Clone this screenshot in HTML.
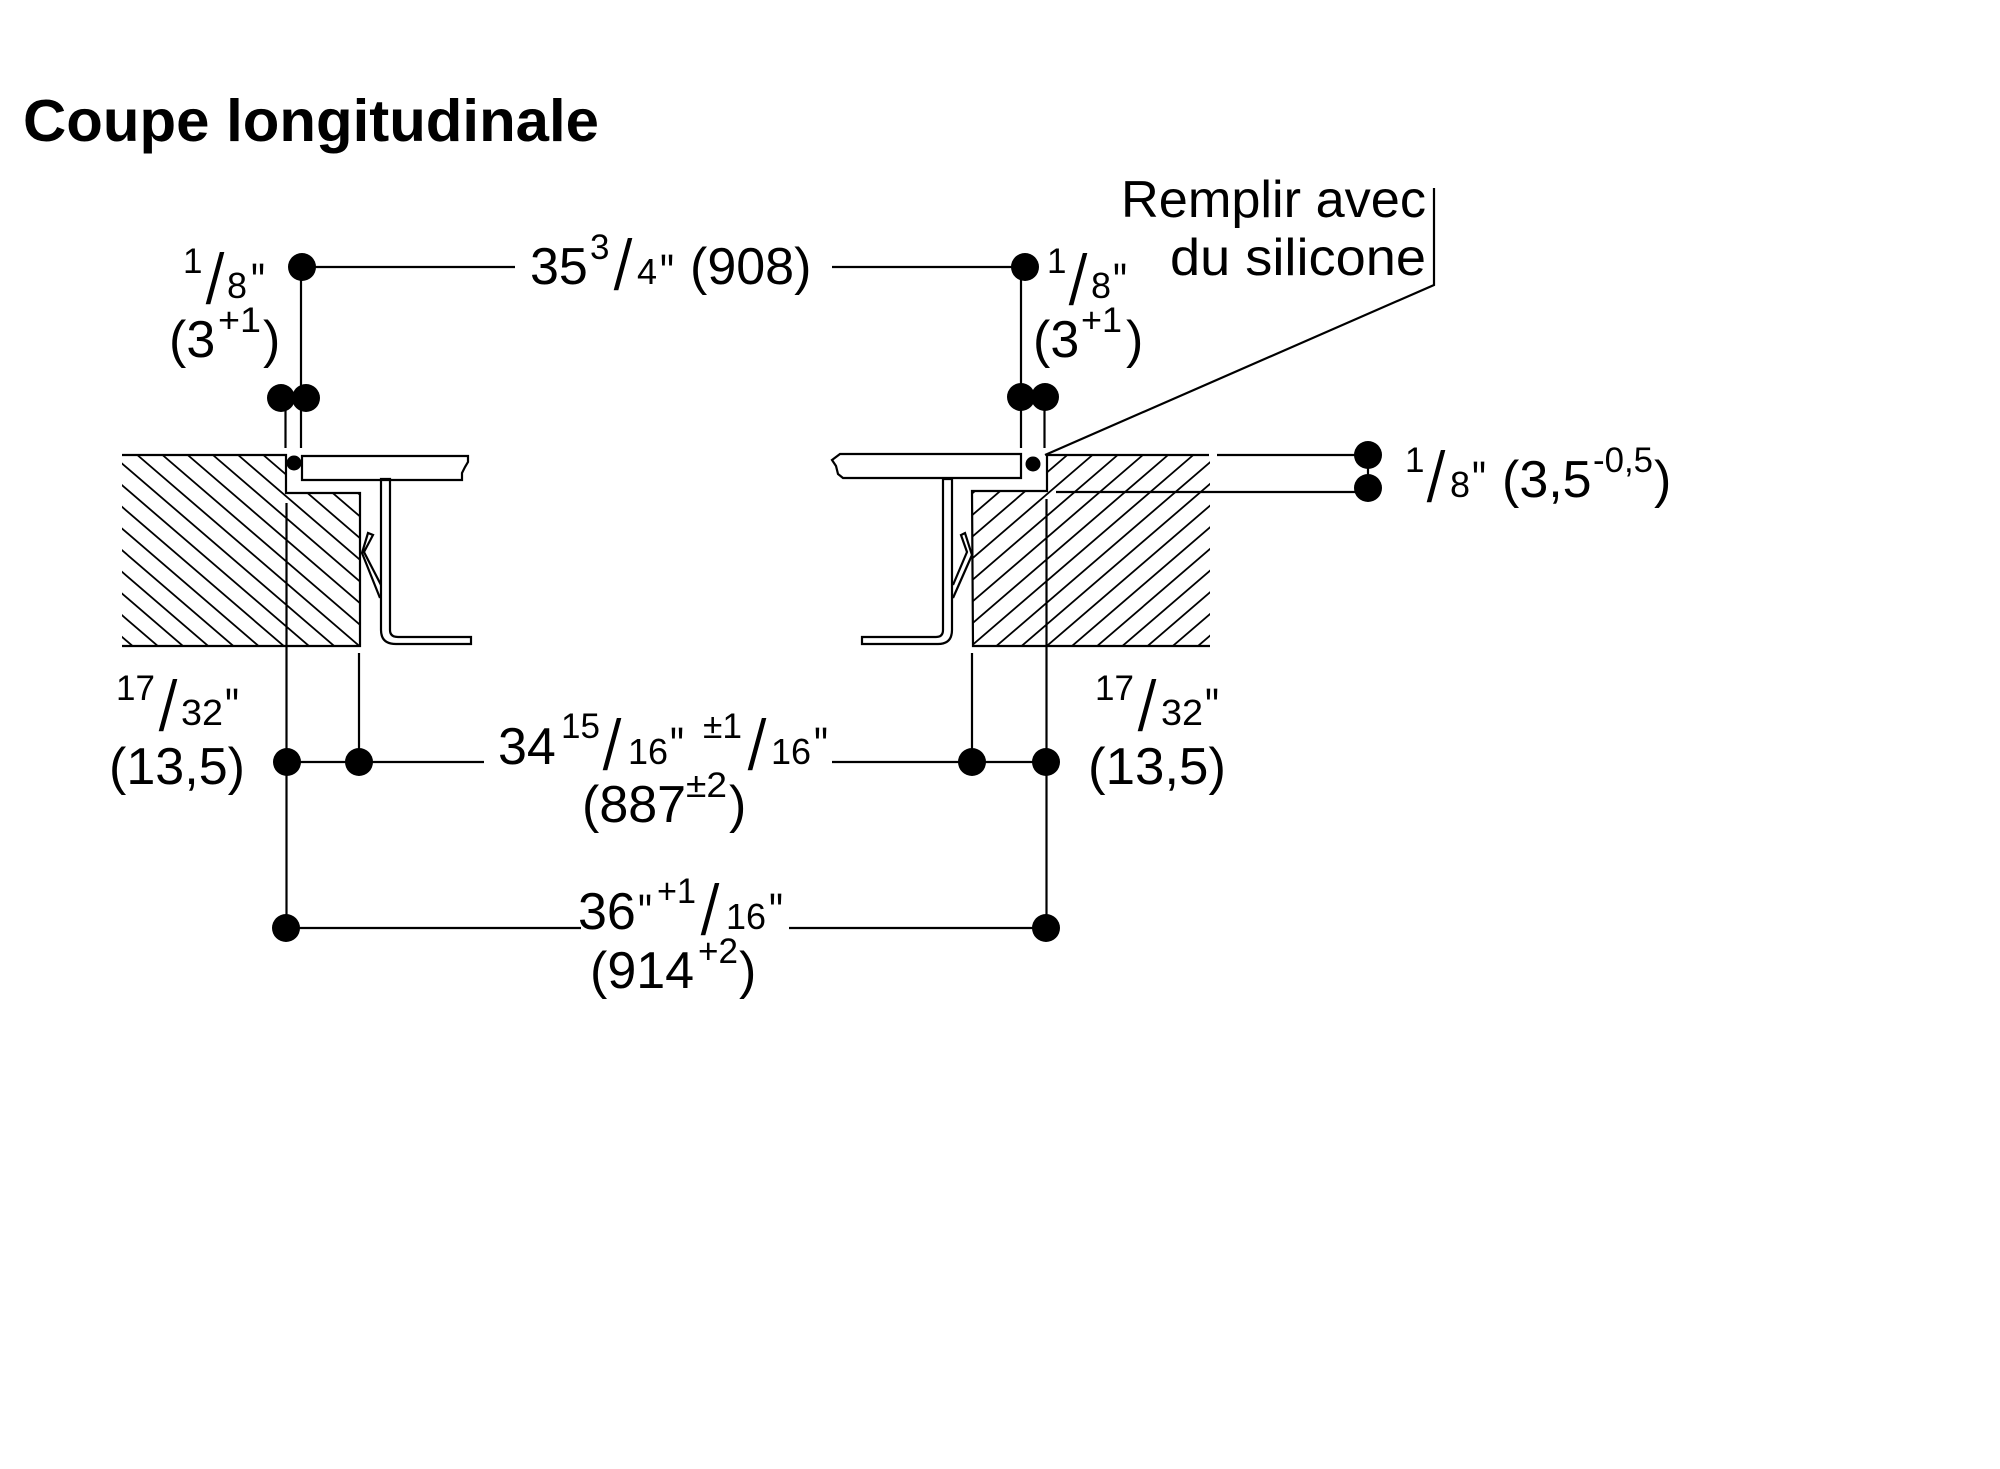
<!DOCTYPE html>
<html lang="fr">
<head>
<meta charset="utf-8">
<title>Coupe longitudinale</title>
<style>
html,body{margin:0;padding:0;background:#fff;width:2000px;height:1469px;overflow:hidden}
svg{display:block}
text{font-family:"Liberation Sans",sans-serif;fill:#000}
.m{font-size:52px}
.s{font-size:35px}
.d{font-size:36px}
.q{font-size:50px}
.f{font-size:72px;stroke:#fff;stroke-width:1px}
.t{font-size:59px;font-weight:bold}
</style>
</head>
<body>
<svg width="2000" height="1469" viewBox="0 0 2000 1469" xmlns="http://www.w3.org/2000/svg">
<defs>
<clipPath id="cl"><path d="M122 455H286V493H360V646H122Z"/></clipPath>
<clipPath id="cr"><path d="M1047 455H1210V646H973L972 491H1047Z"/></clipPath>
</defs>
<rect width="2000" height="1469" fill="#fff"/>

<!-- hatching -->
<g clip-path="url(#cl)" fill="none" stroke="#000" stroke-width="1.8">
<path d="M-114.7 455l300 258M-89.5 455l300 258M-64.3 455l300 258M-39.1 455l300 258M-13.9 455l300 258M11.3 455l300 258M36.5 455l300 258M61.7 455l300 258M86.9 455l300 258M112.1 455l300 258M137.3 455l300 258M162.5 455l300 258M187.7 455l300 258M212.9 455l300 258M238.1 455l300 258M263.3 455l300 258M288.5 455l300 258M313.7 455l300 258M338.9 455l300 258"/>
</g>
<g clip-path="url(#cr)" fill="none" stroke="#000" stroke-width="1.8">
<path d="M991.7 455l-300 258M1016.9 455l-300 258M1042.1 455l-300 258M1067.3 455l-300 258M1092.5 455l-300 258M1117.7 455l-300 258M1142.9 455l-300 258M1168.1 455l-300 258M1193.3 455l-300 258M1218.5 455l-300 258M1243.7 455l-300 258M1268.9 455l-300 258M1294.1 455l-300 258M1319.3 455l-300 258M1344.5 455l-300 258M1369.7 455l-300 258M1394.9 455l-300 258M1420.1 455l-300 258"/>
</g>

<!-- outlines -->
<g fill="none" stroke="#000" stroke-width="2.2">
<path d="M122 455H286V493H360V646H122"/>
<path d="M1209 455H1047V491H972L973 646H1210"/>
<path d="M1217 455H1368M1056 492H1368M1368 455V490"/>
<!-- glass panels -->
<path d="M302 456H468V462L465 467L462 473V480H302Z"/>
<path d="M1021 454H840L832 460L836 466L838 474L843 478H1021Z"/>
<!-- brackets -->
<path d="M381 480V479H390V630Q390 637 398 637H471V644H396Q381 644 381 630Z"/>
<path d="M943 479H952V630Q952 644 938 644H862V637H936Q943 637 943 630Z"/>
<!-- clips -->
<path d="M381 585L364 552L373 535L368 533L362 553L380 598"/>
<path d="M953 585L967 552L961 535L965 533L972 555L953 598"/>
<!-- dimension lines -->
<path d="M302 267H515M832 267H1025"/>
<path d="M301 267V448M285.5 397V448"/>
<path d="M1021 267V448M1044.5 397V448"/>
<path d="M286.5 503V928M359 653V762M972 653V762M1046.5 499V928"/>
<path d="M287 762H484M832 762H1046"/>
<path d="M286 928H581M789 928H1046"/>
<path d="M1434 188V285L1045 455"/>
</g>

<!-- dots -->
<g fill="#000">
<circle cx="302" cy="267" r="14"/>
<circle cx="1025" cy="267" r="14"/>
<circle cx="281" cy="398" r="14"/>
<circle cx="306" cy="398" r="14"/>
<circle cx="1021" cy="397" r="14"/>
<circle cx="1045" cy="397" r="14"/>
<circle cx="294" cy="463" r="7.5"/>
<circle cx="1033" cy="464" r="7.5"/>
<circle cx="1368" cy="455" r="14"/>
<circle cx="1368" cy="488" r="14"/>
<circle cx="287" cy="762" r="14"/>
<circle cx="359" cy="762" r="14"/>
<circle cx="972" cy="762" r="14"/>
<circle cx="1046" cy="762" r="14"/>
<circle cx="286" cy="928" r="14"/>
<circle cx="1046" cy="928" r="14"/>
</g>

<!-- title -->
<text class="t" x="23" y="141" textLength="576" lengthAdjust="spacingAndGlyphs">Coupe longitudinale</text>

<!-- 35 3/4" (908) -->
<text class="m" x="530" y="284">35</text>
<text class="s" x="590" y="259">3</text>
<text class="f" x="613" y="290">/</text>
<text class="d" x="637" y="284">4</text>
<text class="q" x="660" y="289" textLength="14" lengthAdjust="spacingAndGlyphs">"</text>
<text class="m" x="690" y="284">(908)</text>

<!-- left 1/8" (3+1) -->
<text class="s" x="183" y="273">1</text>
<text class="f" x="205" y="304">/</text>
<text class="d" x="227" y="298">8</text>
<text class="q" x="251" y="298" textLength="14" lengthAdjust="spacingAndGlyphs">"</text>
<text class="m" x="169" y="357">(3</text>
<text class="s" x="218" y="332" textLength="43" lengthAdjust="spacingAndGlyphs">+1</text>
<text class="m" x="263" y="357">)</text>

<!-- right 1/8" (3+1) -->
<text class="s" x="1047" y="273">1</text>
<text class="f" x="1068" y="305">/</text>
<text class="d" x="1091" y="298">8</text>
<text class="q" x="1113" y="298" textLength="14" lengthAdjust="spacingAndGlyphs">"</text>
<text class="m" x="1033" y="357">(3</text>
<text class="s" x="1081" y="332" textLength="41" lengthAdjust="spacingAndGlyphs">+1</text>
<text class="m" x="1126" y="357">)</text>

<!-- Remplir avec -->
<text class="m" x="1121" y="217" textLength="305" lengthAdjust="spacingAndGlyphs">Remplir avec</text>
<text class="m" x="1170" y="275" textLength="256" lengthAdjust="spacingAndGlyphs">du silicone</text>

<!-- 1/8" (3,5-0,5) -->
<text class="s" x="1405" y="472">1</text>
<text class="f" x="1426" y="502">/</text>
<text class="d" x="1450" y="497">8</text>
<text class="q" x="1472" y="496" textLength="14" lengthAdjust="spacingAndGlyphs">"</text>
<text class="m" x="1502" y="497">(3,5</text>
<text class="s" x="1593" y="472" textLength="60" lengthAdjust="spacingAndGlyphs">-0,5</text>
<text class="m" x="1654" y="497">)</text>

<!-- left 17/32 (13,5) -->
<text class="s" x="116" y="700">17</text>
<text class="f" x="158" y="731">/</text>
<text class="d" x="181" y="725" textLength="42" lengthAdjust="spacingAndGlyphs">32</text>
<text class="q" x="225" y="723" textLength="14" lengthAdjust="spacingAndGlyphs">"</text>
<text class="m" x="109" y="784" textLength="136" lengthAdjust="spacingAndGlyphs">(13,5)</text>

<!-- right 17/32 (13,5) -->
<text class="s" x="1095" y="700">17</text>
<text class="f" x="1137" y="731">/</text>
<text class="d" x="1161" y="725" textLength="42" lengthAdjust="spacingAndGlyphs">32</text>
<text class="q" x="1205" y="723" textLength="14" lengthAdjust="spacingAndGlyphs">"</text>
<text class="m" x="1088" y="784" textLength="138" lengthAdjust="spacingAndGlyphs">(13,5)</text>

<!-- 34 15/16" ±1/16" (887±2) -->
<text class="m" x="498" y="764">34</text>
<text class="s" x="561" y="738">15</text>
<text class="f" x="602" y="770">/</text>
<text class="d" x="628" y="764">16</text>
<text class="q" x="670" y="762" textLength="14" lengthAdjust="spacingAndGlyphs">"</text>
<text class="s" x="703" y="738" textLength="39" lengthAdjust="spacingAndGlyphs">±1</text>
<text class="f" x="747" y="770">/</text>
<text class="d" x="771" y="764">16</text>
<text class="q" x="814" y="762" textLength="14" lengthAdjust="spacingAndGlyphs">"</text>
<text class="m" x="582" y="822">(887</text>
<text class="s" x="686" y="797" textLength="41" lengthAdjust="spacingAndGlyphs">±2</text>
<text class="m" x="729" y="822">)</text>

<!-- 36"+1/16" (914+2) -->
<text class="m" x="578" y="929">36</text>
<text class="q" x="638" y="929" textLength="14" lengthAdjust="spacingAndGlyphs">"</text>
<text class="s" x="657" y="903" textLength="39" lengthAdjust="spacingAndGlyphs">+1</text>
<text class="f" x="700" y="935">/</text>
<text class="d" x="726" y="929">16</text>
<text class="q" x="769" y="928" textLength="14" lengthAdjust="spacingAndGlyphs">"</text>
<text class="m" x="590" y="988">(914</text>
<text class="s" x="698" y="963" textLength="40" lengthAdjust="spacingAndGlyphs">+2</text>
<text class="m" x="739" y="988">)</text>
</svg>
</body>
</html>
